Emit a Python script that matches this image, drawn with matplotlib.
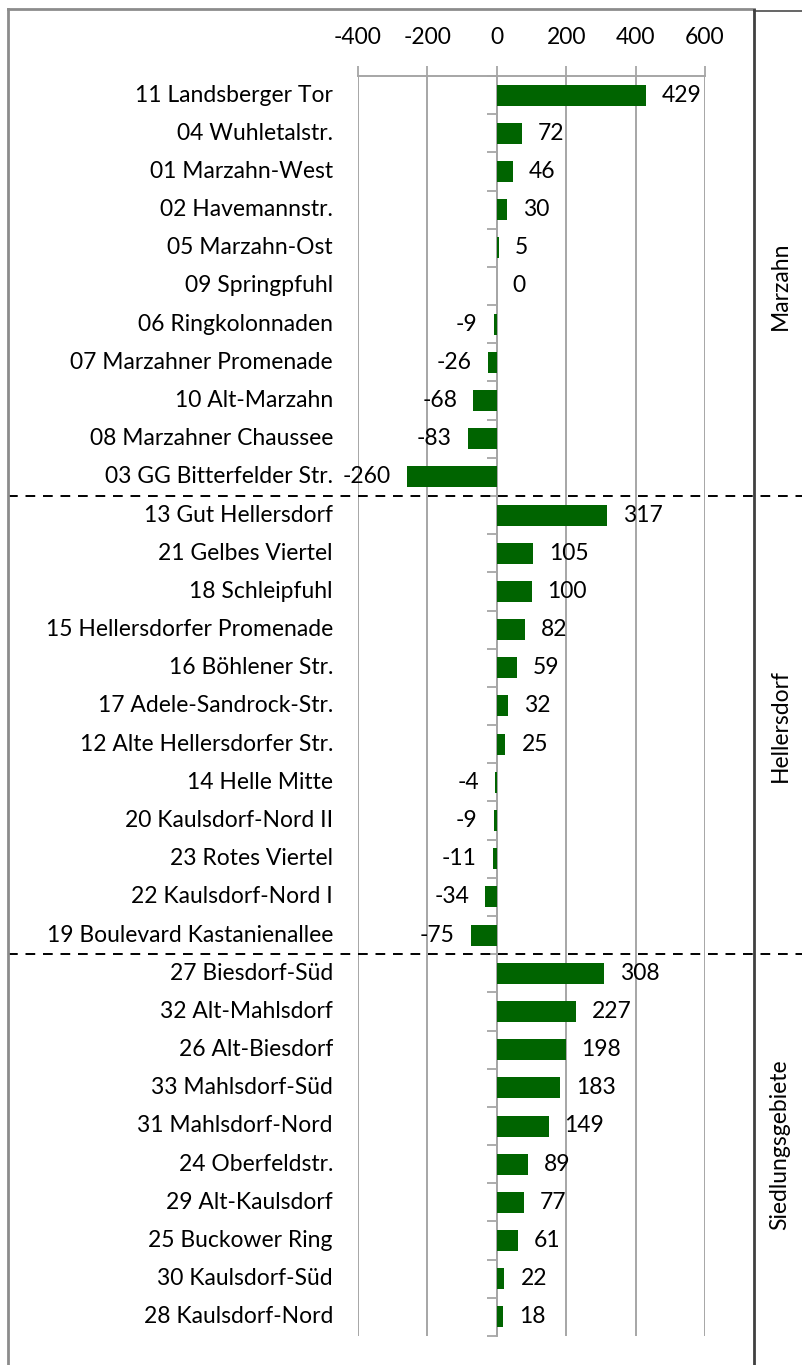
import matplotlib
matplotlib.use("Agg")
import matplotlib.pyplot as plt
from matplotlib.lines import Line2D
from matplotlib.transforms import blended_transform_factory, offset_copy

categories = [
    "11 Landsberger Tor", "04 Wuhletalstr.", "01 Marzahn-West", "02 Havemannstr.",
    "05 Marzahn-Ost", "09 Springpfuhl", "06 Ringkolonnaden", "07 Marzahner Promenade",
    "10 Alt-Marzahn", "08 Marzahner Chaussee", "03 GG Bitterfelder Str.",
    "13 Gut Hellersdorf", "21 Gelbes Viertel", "18 Schleipfuhl", "15 Hellersdorfer Promenade",
    "16 Böhlener Str.", "17 Adele-Sandrock-Str.", "12 Alte Hellersdorfer Str.", "14 Helle Mitte",
    "20 Kaulsdorf-Nord II", "23 Rotes Viertel", "22 Kaulsdorf-Nord I", "19 Boulevard Kastanienallee",
    "27 Biesdorf-Süd", "32 Alt-Mahlsdorf", "26 Alt-Biesdorf", "33 Mahlsdorf-Süd",
    "31 Mahlsdorf-Nord", "24 Oberfeldstr.", "29 Alt-Kaulsdorf", "25 Buckower Ring",
    "30 Kaulsdorf-Süd", "28 Kaulsdorf-Nord",
]
values = [429, 72, 46, 30, 5, 0, -9, -26, -68, -83, -260,
          317, 105, 100, 82, 59, 32, 25, -4, -9, -11, -34, -75,
          308, 227, 198, 183, 149, 89, 77, 61, 22, 18]
groups = ["Marzahn", "Hellersdorf", "Siedlungsgebiete"]
group_sizes = [11, 12, 10]
xticks = [-400, -200, 0, 200, 400, 600]

W, H = 803, 1365
fig = plt.figure(figsize=(W / 100, H / 100), dpi=100)
font = "Lato"
fs = 16.5

ax_left, ax_right, ax_top, ax_bottom = 358, 705, 76, 1336
ax = fig.add_axes([ax_left / W, 1 - ax_bottom / H, (ax_right - ax_left) / W, (ax_bottom - ax_top) / H])

n = len(categories)
ypos = list(range(n))
ax.barh(ypos, values, height=0.55, color="#006400", zorder=3)
ax.set_xlim(-400, 600)
ax.set_ylim(n - 0.5, -0.5)

grid_c = "#a6a6a6"
ax.set_xticks(xticks)
ax.set_xticklabels([str(t) for t in xticks], fontsize=fs, family=font)
ax.xaxis.tick_top()
ax.tick_params(axis="x", direction="out", length=7, width=1.3, color=grid_c, pad=13)
ax.grid(axis="x", color=grid_c, linewidth=1.4, zorder=0)
ax.set_axisbelow(True)

for s in ["right", "bottom"]:
    ax.spines[s].set_visible(False)
ax.spines["top"].set_color(grid_c)
ax.spines["top"].set_linewidth(1.4)
ax.spines["left"].set_position(("data", 0))
ax.spines["left"].set_color(grid_c)
ax.spines["left"].set_linewidth(1.4)
ax.set_yticks([])
ax.set_yticks([i - 0.5 for i in range(n + 1)], minor=True)
ax.tick_params(axis="y", which="minor", direction="out", length=7, width=1.3, color=grid_c, labelleft=False)

# category labels
tr = blended_transform_factory(ax.transAxes, ax.transData)
for i, c in enumerate(categories):
    ax.text(-25 / (ax_right - ax_left), i, c, transform=tr, ha="right", va="center",
            fontsize=fs, family=font, color="black")

# data labels
for i, v in enumerate(values):
    if v >= 0:
        t = offset_copy(ax.transData, fig=fig, x=16, y=0, units="dots")
        ax.text(v, i, str(v), transform=t, ha="left", va="center", fontsize=fs, family=font, zorder=5)
    else:
        t = offset_copy(ax.transData, fig=fig, x=-16, y=0, units="dots")
        ax.text(v, i, str(v), transform=t, ha="right", va="center", fontsize=fs, family=font, zorder=5)

# group labels and separators
start = 0
for g, size in zip(groups, group_sizes):
    center = start + (size - 1) / 2
    y_pix = ax_top + (center + 0.5) * (ax_bottom - ax_top) / n
    fig.text(780 / W, 1 - y_pix / H, g, rotation=90, ha="center", va="center", fontsize=fs, family=font)
    start += size
    if start < n:
        yb = ax_top + start * (ax_bottom - ax_top) / n
        fig.add_artist(Line2D([8 / W, 1], [1 - yb / H, 1 - yb / H], transform=fig.transFigure,
                              color="black", linewidth=1.4, linestyle=(0, (5, 4))))

# frame
frame_c = "#8c8c8c"
fig.add_artist(Line2D([8 / W, 8 / W], [0, 1 - 9 / H], transform=fig.transFigure, color=frame_c, linewidth=2))
fig.add_artist(Line2D([8 / W, 754 / W], [1 - 9 / H, 1 - 9 / H], transform=fig.transFigure, color=frame_c, linewidth=2))
fig.add_artist(Line2D([754 / W, 1], [1 - 11 / H, 1 - 11 / H], transform=fig.transFigure, color="#595959", linewidth=1.3))
fig.add_artist(Line2D([754 / W, 754 / W], [0, 1 - 10 / H], transform=fig.transFigure, color="#404040", linewidth=2))

fig.savefig("out.png", dpi=100)
